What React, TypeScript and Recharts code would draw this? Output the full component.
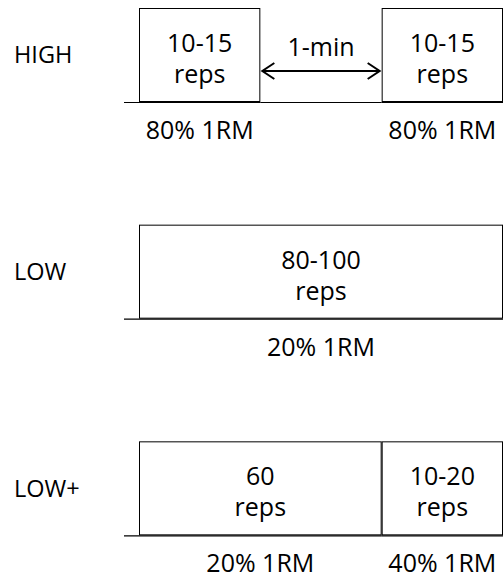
import * as React from "react"
import { BarChart, Bar, XAxis, YAxis, LabelList } from 'recharts';

// rows of the protocol diagram
const categories = ["HIGH", "LOW", "LOW+"];
// length of each block (in thirds of the full set width)
const firstBlock = [1, 3, 2];
const restBlock = [1, 0, 0];
const secondBlock = [1, 0, 1];
// texts
const firstReps = ["10-15", "80-100", "60"];
const secondReps = ["10-15", "", "10-20"];
const restLabel = ["1-min", "", ""];
const firstLoad = ["80% 1RM", "20% 1RM", "20% 1RM"];
const secondLoad = ["80% 1RM", "", "40% 1RM"];

const data = categories.map((name, i) => ({
    name,
    first: firstBlock[i],
    rest: restBlock[i],
    second: secondBlock[i],
    firstReps: firstReps[i],
    secondReps: secondReps[i],
    restLabel: restLabel[i],
    firstLoad: firstLoad[i],
    secondLoad: secondLoad[i],
}));

const FONT = "'Open Sans', sans-serif";
const INK = "#000";

// box with the baseline under it
const BoxShape = (extendLeft: number) => (props: any) => {
    const { x, y, width, height } = props;
    if (!width || width <= 0) return null;
    const bottom = y + height;
    return (
        <g>
            <rect x={x + 0.5} y={y + 0.5} width={width - 1} height={height - 1} fill="#fff" stroke={INK} strokeWidth={1} />
            <line x1={x - extendLeft} x2={x + width} y1={bottom + 0.5} y2={bottom + 0.5} stroke={INK} strokeWidth={1.2} />
        </g>
    );
};

// empty rest period: double arrow + baseline
const RestShape = (props: any) => {
    const { x, y, width, height } = props;
    if (!width || width <= 0) return null;
    const bottom = y + height;
    const ay = y + height * 0.67;
    const x1 = x + 2;
    const x2 = x + width - 2;
    return (
        <g>
            <line x1={x} x2={x + width} y1={bottom + 0.5} y2={bottom + 0.5} stroke={INK} strokeWidth={1.2} />
            <line x1={x1} x2={x2} y1={ay} y2={ay} stroke={INK} strokeWidth={2} />
            <polyline points={`${x1 + 12},${ay - 8} ${x1},${ay} ${x1 + 12},${ay + 8}`} fill="none" stroke={INK} strokeWidth={2} />
            <polyline points={`${x2 - 12},${ay - 8} ${x2},${ay} ${x2 - 12},${ay + 8}`} fill="none" stroke={INK} strokeWidth={2} />
        </g>
    );
};

const RepsLabel = (props: any) => {
    const { x, y, width, height, value } = props;
    if (!value || !width) return null;
    const cx = x + width / 2;
    const cy = y + height / 2;
    return (
        <text x={cx} textAnchor="middle" fontFamily={FONT} fontSize={25} fill={INK}>
            <tspan x={cx} y={cy - 3}>{value}</tspan>
            <tspan x={cx} y={cy + 28}>reps</tspan>
        </text>
    );
};

const LoadLabel = (props: any) => {
    const { x, y, width, height, value } = props;
    if (!value || !width) return null;
    return (
        <text x={x + width / 2} y={y + height + 37} textAnchor="middle" fontFamily={FONT} fontSize={25} fill={INK}>
            {value}
        </text>
    );
};

const RestLabel = (props: any) => {
    const { x, y, width, height, value } = props;
    if (!value || !width) return null;
    return (
        <text x={x + width / 2} y={y + height / 2 + 1} textAnchor="middle" fontFamily={FONT} fontSize={25} fill={INK}>
            {value}
        </text>
    );
};

const RowTick = (props: any) => {
    const { y, payload } = props;
    return (
        <text x={14} y={y + 8} textAnchor="start" fontFamily={FONT} fontSize={23.5} fill={INK}>
            {payload.value}
        </text>
    );
};

export default function App() {
    return (
        <div style={{ position: 'absolute', left: 0, top: 0, width: 504, height: 581, overflow: 'hidden', background: '#fff' }}>
            <div style={{ position: 'relative', top: -53 }}>
                <BarChart
                    width={504}
                    height={650}
                    data={data}
                    layout="vertical"
                    margin={{ top: 0, right: 1, bottom: 0, left: 0 }}
                    barSize={94}
                >
                    <XAxis type="number" domain={[0, 3]} hide />
                    <YAxis type="category" dataKey="name" width={139} axisLine={false} tickLine={false} tick={<RowTick />} />
                    <Bar dataKey="first" stackId="set" shape={BoxShape(15)} isAnimationActive={false}>
                        <LabelList dataKey="firstReps" content={<RepsLabel />} />
                        <LabelList dataKey="firstLoad" content={<LoadLabel />} />
                    </Bar>
                    <Bar dataKey="rest" stackId="set" shape={RestShape} isAnimationActive={false}>
                        <LabelList dataKey="restLabel" content={<RestLabel />} />
                    </Bar>
                    <Bar dataKey="second" stackId="set" shape={BoxShape(0)} isAnimationActive={false}>
                        <LabelList dataKey="secondReps" content={<RepsLabel />} />
                        <LabelList dataKey="secondLoad" content={<LoadLabel />} />
                    </Bar>
                </BarChart>
            </div>
        </div>
    );
}
